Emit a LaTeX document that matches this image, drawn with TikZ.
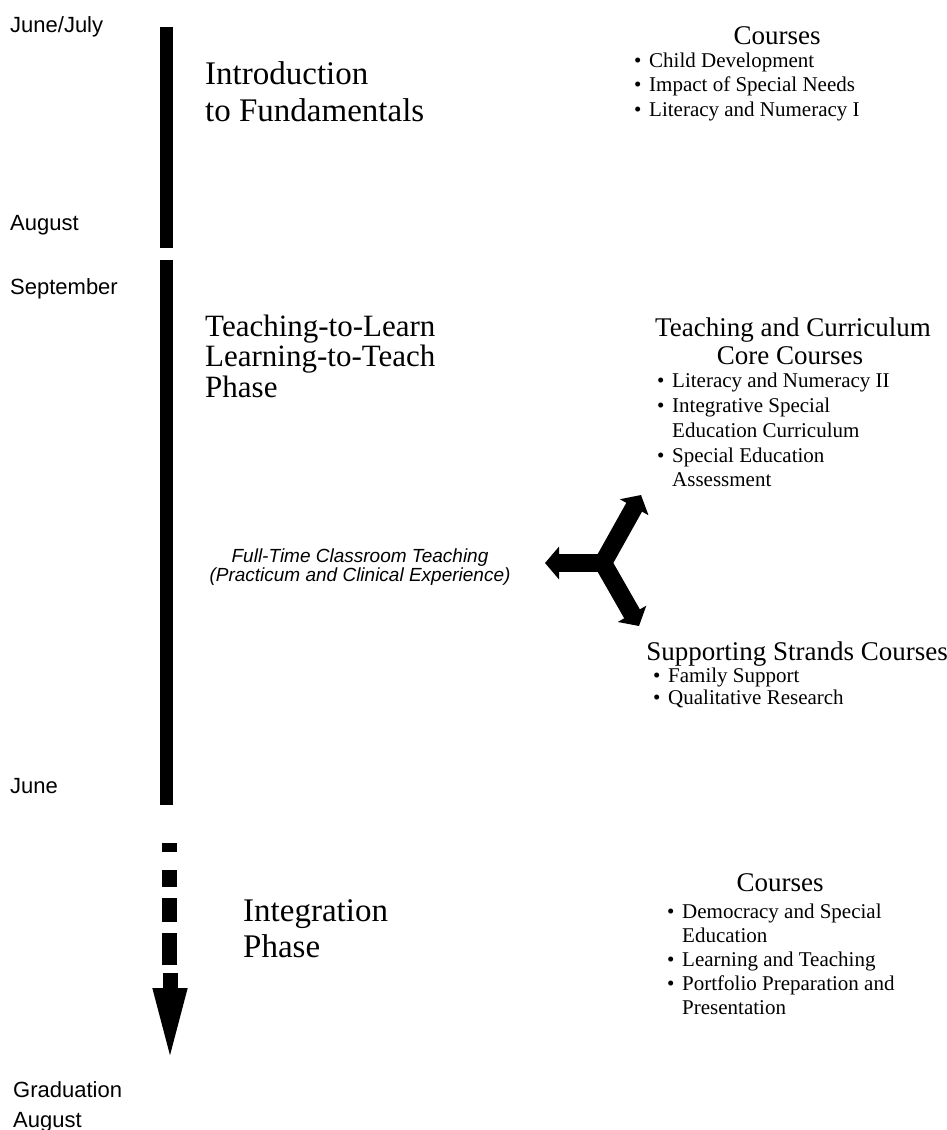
\documentclass[tikz,border=0pt]{standalone}
\usepackage{fontspec}
\setmainfont{Liberation Serif}
\setsansfont{Liberation Sans}
\usetikzlibrary{arrows.meta}

\newcommand{\itm}{\makebox[15pt][l]{\textbullet}}

\begin{document}
\begin{tikzpicture}[
  x=1pt, y=-1pt,
  month/.style={anchor=base west, inner sep=0pt,
                font=\sffamily\fontsize{22}{26}\selectfont},
  phase/.style={anchor=base west, inner sep=0pt,
                font=\fontsize{33}{36}\selectfont},
  note/.style={anchor=base, inner sep=0pt,
               font=\sffamily\itshape\fontsize{19}{20}\selectfont},
  head/.style={anchor=base, inner sep=0pt,
               font=\fontsize{27}{28}\selectfont},
  item/.style={anchor=base west, inner sep=0pt,
               font=\fontsize{21}{24}\selectfont},
  bar/.style={line width=13pt},
  dashbar/.style={line width=15pt},
  fork/.style={line width=18pt, line cap=round,
               -{Triangle[length=14pt, width=32pt]}},
]
\useasboundingbox (0,0) rectangle (947,1130);

% months
\node[month] (m-jun) at (10,32) {June/July};
\node[month] (m-aug) at (10,230) {August};
\node[month] (m-sep) at (10,294) {September};
\node[month] (m-june) at (10,793) {June};
\node[month] (m-grad) at (13,1097) {Graduation};
\node[month] (m-grad2) at (13,1127) {August};

% timeline
\coordinate (t1a) at (166,27);
\coordinate (t1b) at (166,248);
\coordinate (t2a) at (166,260);
\coordinate (t2b) at (166,805);
\draw[bar] (t1a) -- (t1b);
\draw[bar] (t2a) -- (t2b);
\foreach \a/\b in {843/852, 870/887, 898/922, 933/965}
  \draw[dashbar] (169,\a) -- (169,\b);
\coordinate (grad-a) at (170,973);
\coordinate (grad-b) at (170,1065);
\draw[line width=15pt, -{Triangle[length=77pt, width=30pt]}] (grad-a) -- (grad-b);

% phases
\node[phase] (intro1) at (205,84) {Introduction};
\node[phase] (intro2) at (205,121) {to Fundamentals};
\node[phase, font=\fontsize{31}{31}\selectfont] (teach1) at (205,336) {Teaching-to-Learn};
\node[phase, font=\fontsize{31}{31}\selectfont] (teach2) at (205,366) {Learning-to-Teach};
\node[phase, font=\fontsize{31}{31}\selectfont] (teach3) at (205,397) {Phase};
\node[phase] (integ1) at (243,921) {Integration};
\node[phase] (integ2) at (243,957) {Phase};

\node[note] (prac1) at (360,562) {Full-Time Classroom Teaching};
\node[note] (prac2) at (360,581) {(Practicum and Clinical Experience)};

% course lists
\node[head] (intro-h) at (777,44) {Courses};
\node[item] (intro-c1) at (634,67) {\itm Child Development};
\node[item] (intro-c2) at (634,91.5) {\itm Impact of Special Needs};
\node[item] (intro-c3) at (634,116) {\itm Literacy and Numeracy I};

\node[head] (core-h1) at (793,336) {Teaching and Curriculum};
\node[head] (core-h2) at (790,364) {Core Courses};
\node[item] (core-c1) at (657,387) {\itm Literacy and Numeracy II};
\node[item] (core-c2) at (657,412) {\itm Integrative Special};
\node[item] (core-c2b) at (672,437) {Education Curriculum};
\node[item] (core-c3) at (657,462) {\itm Special Education};
\node[item] (core-c3b) at (672,486) {Assessment};

\node[head] (supp-h) at (797,660) {Supporting Strands Courses};
\node[item] (supp-c1) at (653,682) {\itm Family Support};
\node[item] (supp-c2) at (653,704) {\itm Qualitative Research};

\node[head] (integ-h) at (780,891) {Courses};
\node[item] (integ-c1) at (667,918) {\itm Democracy and Special};
\node[item] (integ-c1b) at (682,942) {Education};
\node[item] (integ-c2) at (667,966) {\itm Learning and Teaching};
\node[item] (integ-c3) at (667,990) {\itm Portfolio Preparation and};
\node[item] (integ-c3b) at (682,1014) {Presentation};

% fork arrow
\coordinate (fork) at (603,563);
\coordinate (fork-w) at (545,563);
\coordinate (fork-n) at (641,495);
\coordinate (fork-s) at (639,626);
\draw[fork] (fork) -- (fork-w);
\draw[fork] (fork) -- (fork-n);
\draw[fork] (fork) -- (fork-s);
\end{tikzpicture}
\end{document}
